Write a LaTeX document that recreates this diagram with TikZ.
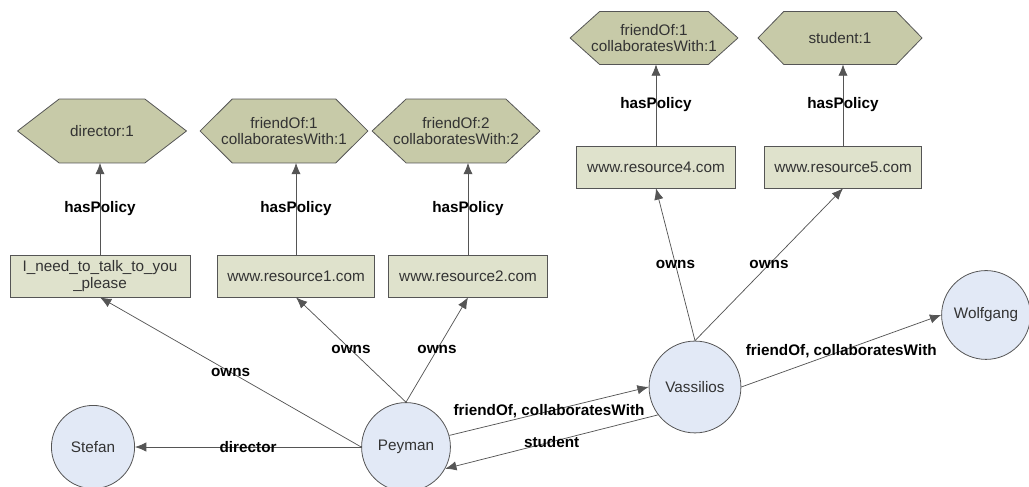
\documentclass[tikz,border=0pt]{standalone}
\usepackage{fontspec}
\setmainfont{Liberation Sans}
\usepackage{tikz}
\usetikzlibrary{arrows.meta,backgrounds}
\definecolor{hexfill}{RGB}{199,202,168}
\definecolor{boxfill}{RGB}{223,226,204}
\definecolor{agfill}{RGB}{226,233,246}
\definecolor{edgegray}{RGB}{85,85,85}
\tikzstyle{agent}=[circle,draw=edgegray,fill=agfill,minimum size=2.35cm,inner sep=0pt,text=black!80,line width=0.6pt,font=\fontsize{11.5}{12.5}\selectfont]
\tikzstyle{res}=[rectangle,draw=edgegray,fill=boxfill,minimum height=1.11cm,inner sep=2pt,align=center,text=black!80,line width=0.6pt,font=\fontsize{11.5}{12.5}\selectfont]
\tikzstyle{pol}=[rectangle,minimum height=1.69cm,inner sep=1pt,outer sep=0pt,align=center,text=black!80,font=\fontsize{11.5}{12.5}\selectfont]
\tikzstyle{hex}=[draw=edgegray,fill=hexfill,line width=0.6pt,line join=round]
\tikzstyle{rel}=[->,draw=edgegray,line width=0.55pt]
\tikzstyle{lab}=[midway,inner sep=0pt,text=black,font=\fontsize{11.5}{12.5}\selectfont\bfseries]

\begin{document}
\begin{tikzpicture}[>={Latex[length=8.5pt,width=7pt]}]
\useasboundingbox (0,0) rectangle (27.225,12.885);
% people
\node[agent,minimum size=2.2cm] (S) at (2.461,1.058) {Stefan};
\node[agent] (P) at (10.742,1.058) {Peyman};
\node[agent,minimum size=2.43cm] (V) at (18.388,2.646) {Vassilios};
\node[agent] (W) at (26.088,4.551) {Wolfgang};
% resources
\node[res,minimum width=4.76cm] (R0) at (2.646,5.583) {I\_need\_to\_talk\_to\_you\\\_please};
\node[res,minimum width=4.15cm] (R1) at (7.832,5.583) {www.resource1.com};
\node[res,minimum width=4.21cm] (R2) at (12.382,5.583) {www.resource2.com};
\node[res,minimum width=4.21cm] (R4) at (17.356,8.467) {www.resource4.com};
\node[res,minimum width=4.15cm] (R5) at (22.304,8.467) {www.resource5.com};
% policies
\node[pol,minimum width=4.47cm] (H0) at (2.699,9.419) {director:1};
\node[pol,minimum width=4.44cm] (H1) at (7.514,9.419) {friendOf:1\\collaboratesWith:1};
\node[pol,minimum width=4.44cm] (H2) at (12.065,9.419) {friendOf:2\\collaboratesWith:2};
\node[pol,minimum width=4.44cm,minimum height=1.40cm] (H4) at (17.304,11.880) {friendOf:1\\collaboratesWith:1};
\node[pol,minimum width=4.34cm,minimum height=1.40cm] (H5) at (22.225,11.880) {student:1};
\begin{scope}[on background layer]
\foreach \h/\d in {H0/1.1,H1/0.85,H2/0.9,H4/0.78,H5/0.68}
  \draw[hex] (\h.west) -- ([xshift=\d cm]\h.north west) -- ([xshift=-\d cm]\h.north east)
    -- (\h.east) -- ([xshift=-\d cm]\h.south east) -- ([xshift=\d cm]\h.south west) -- cycle;
\end{scope}
% hasPolicy
\foreach \r/\h in {R0/H0,R1/H1,R2/H2,R4/H4,R5/H5}
  \draw[rel] (\r.north) -- (\r.north |- \h.south) node[lab]{hasPolicy};
% owns
\draw[rel] (P.west) -- (R0.south) node[lab]{owns};
\draw[rel] (P.north) -- (R1.south) node[lab]{owns};
\draw[rel] (P.north) -- (R2.south) node[lab]{owns};
\draw[rel] (V.north) -- (R4.south) node[lab]{owns};
\draw[rel] (V.north) -- (R5.south) node[lab]{owns};
% relations between people
\draw[rel] (P.west) -- (S.east) node[lab]{director};
\draw[rel] (P.15) -- (V.west) node[lab]{friendOf, collaboratesWith};
\draw[rel] (V.217) -- (P.-29) node[lab]{student};
\draw[rel] (V.east) -- (W.west) node[lab]{friendOf, collaboratesWith};
\end{tikzpicture}
\end{document}
